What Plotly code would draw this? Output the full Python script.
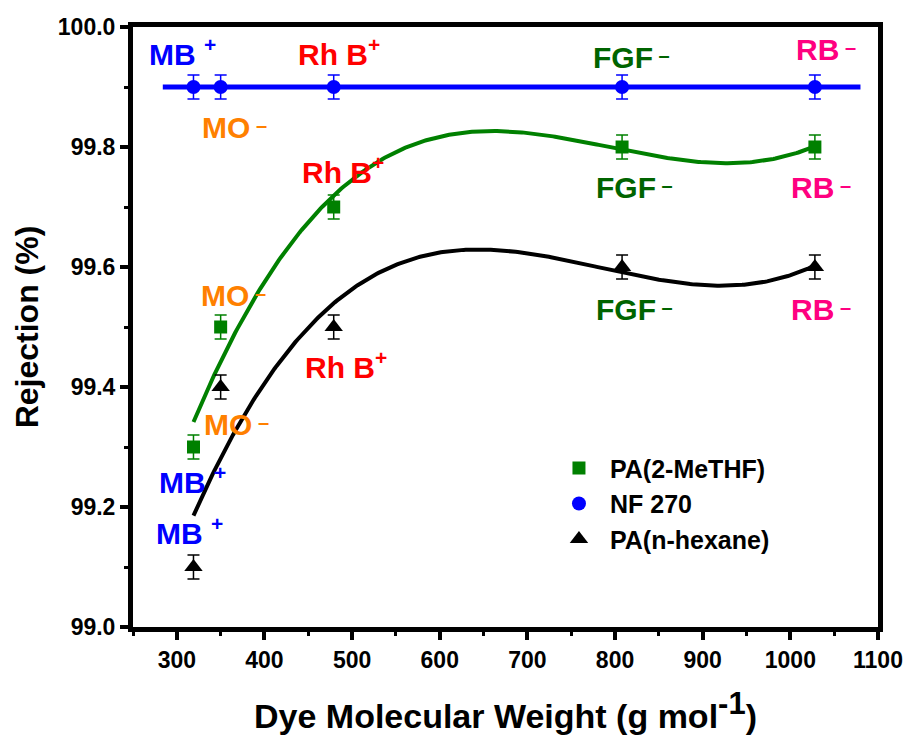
import numpy as np
import plotly.graph_objects as go

# Dye molecular weights (g/mol) as plotted: MB, MO, Rh B, FGF, RB
mw = [319, 350, 479, 808, 1028]

# Rejection (%) for each membrane
rej_metthf = [99.3, 99.5, 99.7, 99.8, 99.8]
rej_nf270 = [99.9, 99.9, 99.9, 99.9, 99.9]
rej_hexane = [99.1, 99.4, 99.5, 99.6, 99.6]
rej_err = [0.02, 0.02, 0.02, 0.02, 0.02]

# x-extent of the NF 270 trend line
nf270_line_x = [284, 1080]

# Tick values
x_ticks = [300, 400, 500, 600, 700, 800, 900, 1000, 1100]
y_ticks = [99.0, 99.2, 99.4, 99.6, 99.8, 100.0]

GREEN = "#008000"
BLUE = "#0000FF"
BLACK = "#000000"
RED = "#FF0000"
ORANGE = "#FF8000"
DKGREEN = "#006400"
PINK = "#FF0080"
FONT = "Liberation Sans, Arial, sans-serif"

# cubic polynomial trend fits of the measured rejections
fit_x = np.linspace(mw[0], mw[-1], 300)
fit_metthf = np.polyval(np.polyfit(mw, rej_metthf, 3), fit_x)
fit_hexane = np.polyval(np.polyfit(mw, rej_hexane, 3), fit_x)
fit_nf270 = np.polyval(np.polyfit(mw, rej_nf270, 1), nf270_line_x)

fig = go.Figure()

fig.add_trace(go.Scatter(x=fit_x, y=fit_metthf, mode="lines", line=dict(color=GREEN, width=4),
                         showlegend=False, hoverinfo="skip"))
fig.add_trace(go.Scatter(x=fit_x, y=fit_hexane, mode="lines", line=dict(color=BLACK, width=4),
                         showlegend=False, hoverinfo="skip"))
fig.add_trace(go.Scatter(x=nf270_line_x, y=fit_nf270, mode="lines", line=dict(color=BLUE, width=5),
                         showlegend=False, hoverinfo="skip"))


def err(color):
    return dict(type="data", array=rej_err, visible=True, color=color, thickness=1.5, width=6)


fig.add_trace(go.Scatter(x=mw, y=rej_metthf, mode="markers", name="PA(2-MeTHF)",
                         marker=dict(symbol="square", size=13, color=GREEN), error_y=err(GREEN)))
fig.add_trace(go.Scatter(x=mw, y=rej_nf270, mode="markers", name="NF 270",
                         marker=dict(symbol="circle", size=14, color=BLUE), error_y=err(BLUE)))
fig.add_trace(go.Scatter(x=mw, y=rej_hexane, mode="markers", name="PA(n-hexane)",
                         marker=dict(symbol="triangle-up", size=16, color=BLACK), error_y=err(BLACK)))

# dye labels (cationic +, anionic -)
PLUS = "<sup>+</sup>"
MINUS = "<span style='font-size:20px;baseline-shift:6px'> \u2013</span>"
labels = [
    ("MB " + PLUS, 266, 99.958, BLUE),
    ("Rh B" + PLUS, 436, 99.958, RED),
    ("FGF" + MINUS, 772, 99.95, DKGREEN),
    ("RB" + MINUS, 1004, 99.962, PINK),
    ("MO" + MINUS, 327, 99.832, ORANGE),
    ("Rh B" + PLUS, 440, 99.762, RED),
    ("FGF" + MINUS, 776, 99.733, DKGREEN),
    ("RB" + MINUS, 999, 99.732, PINK),
    ("MO" + MINUS, 325, 99.553, ORANGE),
    ("FGF" + MINUS, 776, 99.53, DKGREEN),
    ("RB" + MINUS, 999, 99.53, PINK),
    ("Rh B" + PLUS, 444, 99.437, RED),
    ("MO" + MINUS, 329, 99.337, ORANGE),
    ("MB " + PLUS, 277, 99.245, BLUE),
    ("MB " + PLUS, 274, 99.16, BLUE),
]
for text, x, y, c in labels:
    fig.add_annotation(x=x, y=y, xref="x", yref="y", text=text, showarrow=False,
                       xanchor="left", yanchor="middle",
                       font=dict(family=FONT, size=30, color=c, weight="bold"))

axis_common = dict(
    showline=True, linecolor="black", linewidth=5, mirror=True,
    ticks="outside", ticklen=8, tickwidth=4, tickcolor="black",
    showgrid=False, zeroline=False, automargin=False,
    tickfont=dict(family=FONT, size=23, color="black", weight="bold"),
)

fig.update_xaxes(
    range=[250, 1100], tickvals=x_ticks, ticktext=[str(v) for v in x_ticks],
    minor=dict(ticks="outside", ticklen=4, tickwidth=3, tickcolor="black", dtick=50, tick0=0, showgrid=False),
    title=dict(text="\u00a0\u00a0Dye Molecular Weight (g mol<sup><span style='font-size:31px'>-1</span></sup>)",
               font=dict(family=FONT, size=34, color="black", weight="bold"), standoff=34),
    **axis_common,
)
fig.update_yaxes(
    range=[99.0, 100.0], tickvals=y_ticks, ticktext=[f"{v:.1f}" for v in y_ticks],
    minor=dict(ticks="outside", ticklen=4, tickwidth=3, tickcolor="black", dtick=0.1, tick0=99.0, showgrid=False),
    title=dict(text="Rejection (%)", font=dict(family=FONT, size=32, color="black", weight="bold"), standoff=11),
    **axis_common,
)

fig.update_layout(
    width=908, height=736,
    margin=dict(l=133, r=30, t=27, b=109),
    paper_bgcolor="white", plot_bgcolor="white",
    legend=dict(x=0.557, y=0.303, xanchor="left", yanchor="top",
                font=dict(family=FONT, size=25, color="black", weight="bold"),
                bgcolor="rgba(0,0,0,0)", itemsizing="trace", itemwidth=52, tracegroupgap=0),
    showlegend=True,
)

fig.write_html("out.html")
